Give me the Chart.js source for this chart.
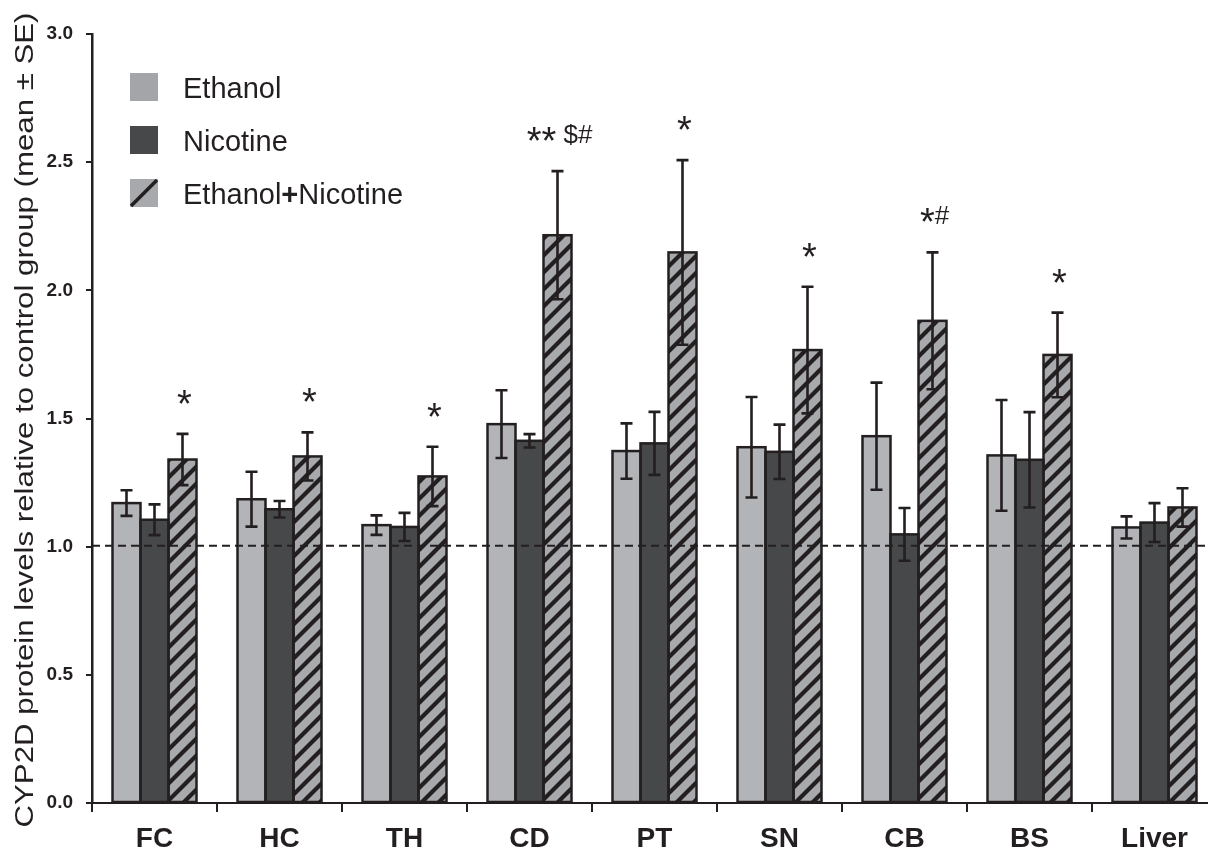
<!DOCTYPE html>
<html>
<head>
<meta charset="utf-8">
<script src="https://cdn.jsdelivr.net/npm/chart.js@4"></script>
<style>
  html,body{margin:0;padding:0;background:#fff;overflow:hidden}
  #wrap{position:absolute;left:0;top:0;width:1222px;height:853px}
</style>
</head>
<body>
<div id="wrap"><canvas id="c" width="1222" height="853"></canvas></div>
<script>
// ── DATA ─────────────────────────────────────────────────
var categories=['FC','HC','TH','CD','PT','SN','CB','BS','Liver'];
var ethanolMean =[1.170,1.185,1.084,1.478,1.373,1.388,1.431,1.356,1.075];
var ethanolSE   =[0.050,0.107,0.038,0.132,0.108,0.196,0.209,0.216,0.043];
var nicotineMean=[1.105,1.146,1.077,1.413,1.403,1.370,1.048,1.339,1.094];
var nicotineSE  =[0.060,0.032,0.055,0.026,0.123,0.106,0.103,0.186,0.076];
var comboMean   =[1.340,1.352,1.274,2.215,2.148,1.767,1.881,1.748,1.153];
var comboSE     =[0.100,0.094,0.116,0.250,0.360,0.247,0.267,0.165,0.075];
var comboMarks  =['*','*','*','** $#','*','*','*#','*',''];
var yTickLabels =['0.0','0.5','1.0','1.5','2.0','2.5','3.0'];
var yTitle='CYP2D protein levels relative to control group (mean \u00b1 SE)';
var controlLevel=1.0;

var INK='#231f20';
var C_ETH='#b2b4b7', C_NIC='#47484a', C_MIX='#a7a9ac';
var FONT='"Liberation Sans", Arial';

// diagonal hatch for the combined group
function hatch(){
  var s=17, p=document.createElement('canvas'); p.width=s; p.height=s;
  var g=p.getContext('2d');
  g.fillStyle=C_MIX; g.fillRect(0,0,s,s);
  g.strokeStyle=INK; g.lineWidth=4.2; g.lineCap='square';
  g.beginPath();
  g.moveTo(0,s); g.lineTo(s,0);
  g.moveTo(-s/2,s/2); g.lineTo(s/2,-s/2);
  g.moveTo(s/2,s*1.5); g.lineTo(s*1.5,s/2);
  g.stroke();
  return g.createPattern(p,'repeat');
}
var mixPattern=hatch();

// text centred on its ink box
function inkText(ctx,txt,font,x,cy){
  ctx.font=font;
  var m=ctx.measureText(txt);
  ctx.fillText(txt,x,cy+(m.actualBoundingBoxAscent-m.actualBoundingBoxDescent)/2);
  return m.width;
}

var overlay={
  id:'overlay',
  afterDatasetsDraw:function(chart){
    var ctx=chart.ctx, ys=chart.scales.y, area=chart.chartArea;
    ctx.save();
    // bar outlines (single line on shared edges)
    ctx.strokeStyle=INK; ctx.lineWidth=2.5; ctx.lineJoin='miter';
    chart.data.datasets.forEach(function(ds,di){
      chart.getDatasetMeta(di).data.forEach(function(b){
        ctx.strokeRect(b.x-b.width/2,b.y,b.width,b.base-b.y);
      });
    });
    // control line
    var yc=ys.getPixelForValue(controlLevel)-1;
    ctx.setLineDash([8,5]); ctx.lineWidth=2;
    ctx.beginPath(); ctx.moveTo(area.left,yc); ctx.lineTo(chart.width,yc); ctx.stroke();
    ctx.setLineDash([]);
    // error bars
    ctx.lineWidth=2.6;
    chart.data.datasets.forEach(function(ds,di){
      chart.getDatasetMeta(di).data.forEach(function(b,i){
        var m=ds.data[i], e=ds.se[i];
        var t=ys.getPixelForValue(m+e), d=ys.getPixelForValue(m-e);
        ctx.beginPath();
        ctx.moveTo(b.x,t); ctx.lineTo(b.x,d);
        ctx.moveTo(b.x-6,t); ctx.lineTo(b.x+6,t);
        ctx.moveTo(b.x-6,d); ctx.lineTo(b.x+6,d);
        ctx.stroke();
      });
    });
    // significance marks above combined bars
    ctx.fillStyle=INK; ctx.textAlign='left'; ctx.textBaseline='alphabetic';
    var mixMeta=chart.getDatasetMeta(2);
    comboMarks.forEach(function(mark,i){
      if(!mark)return;
      var b=mixMeta.data[i];
      var cy=ys.getPixelForValue(comboMean[i]+comboSE[i])-37;
      var parts=mark.match(/\*+|[^*]+/g);
      var fonts=parts.map(function(p){return p.charAt(0)==='*'?'38px '+FONT:'26px '+FONT;});
      var w=0;
      parts.forEach(function(p,k){ctx.font=fonts[k]; w+=ctx.measureText(p).width;});
      var x=b.x-w/2+2;
      parts.forEach(function(p,k){x+=inkText(ctx,p,fonts[k],x,cy);});
    });
    // legend
    chart.data.datasets.forEach(function(ds,k){
      var cy=87+k*53, sx=130, sz=28;
      if(k===2){
        ctx.fillStyle=C_MIX; ctx.fillRect(sx,cy-sz/2,sz,sz);
        ctx.strokeStyle=INK; ctx.lineWidth=3.5;
        ctx.beginPath(); ctx.moveTo(sx+1,cy+sz/2-1); ctx.lineTo(sx+sz-1,cy-sz/2+1); ctx.stroke();
      } else {
        ctx.fillStyle=k===0?'#a3a5a8':ds.backgroundColor; ctx.fillRect(sx,cy-sz/2,sz,sz);
      }
      ctx.fillStyle=INK;
      var tx=183, bl=cy+10.5;
      var bits=ds.label.split('+');
      bits.forEach(function(t,j){
        ctx.font='29px '+FONT;
        ctx.fillText(t,tx,bl); tx+=ctx.measureText(t).width;
        if(j<bits.length-1){
          ctx.font='bold 29px '+FONT;
          ctx.fillText('+',tx,bl); tx+=ctx.measureText('+').width;
        }
      });
    });
    // y axis title, stretched along its run to span the axis like the original
    ctx.font='26px '+FONT;
    var tw=ctx.measureText(yTitle).width;
    ctx.translate(33,420);
    ctx.rotate(-Math.PI/2);
    ctx.scale(815/tw,1);
    ctx.textAlign='center';
    ctx.fillText(yTitle,0,0);
    ctx.restore();
  }
};

new Chart(document.getElementById('c').getContext('2d'),{
  type:'bar',
  data:{
    labels:categories,
    datasets:[
      {label:'Ethanol',data:ethanolMean,se:ethanolSE,backgroundColor:C_ETH,borderWidth:0},
      {label:'Nicotine',data:nicotineMean,se:nicotineSE,backgroundColor:C_NIC,borderWidth:0},
      {label:'Ethanol+Nicotine',data:comboMean,se:comboSE,backgroundColor:mixPattern,borderWidth:0}
    ]
  },
  options:{
    responsive:false,
    animation:false,
    layout:{padding:{top:34,right:5,left:0,bottom:0}},
    datasets:{bar:{categoryPercentage:0.672,barPercentage:1.0}},
    plugins:{legend:{display:false},tooltip:{enabled:false}},
    scales:{
      x:{
        afterFit:function(s){s.height=50;},
        grid:{offset:true,drawOnChartArea:false,tickLength:9,color:INK,lineWidth:2},
        border:{color:INK,width:2},
        ticks:{color:INK,padding:10,font:{family:FONT,size:28,weight:'bold'}}
      },
      y:{
        min:0,max:3,
        afterFit:function(s){s.width=92;},
        grid:{drawOnChartArea:false,tickLength:6,color:INK,lineWidth:2},
        border:{color:INK,width:2.5},
        ticks:{stepSize:0.5,color:INK,padding:13,
          font:{family:FONT,size:19,weight:'bold'},
          callback:function(v,i){return yTickLabels[i];}}
      }
    }
  },
  plugins:[overlay]
});
</script>
</body>
</html>
